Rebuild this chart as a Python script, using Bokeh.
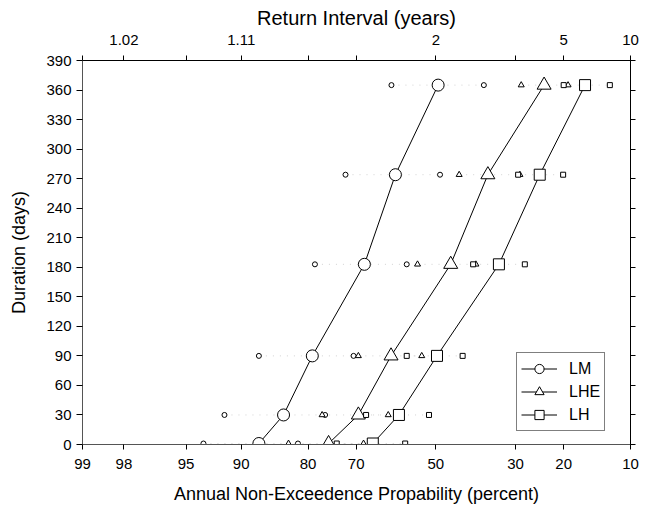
from statistics import NormalDist
from bokeh.plotting import figure
from bokeh.models import (LinearAxis, FixedTicker, Range1d, Legend, LegendItem,
                          ColumnDataSource)
from bokeh.embed import file_html
from bokeh.resources import INLINE

# ---------------- data (probabilities in percent, non-exceedance) ----------------
durations = [1, 30, 90, 183, 274, 365]

lm = [87.8, 84.2, 79.2, 68.1, 60.5, 49.4]
lhe = [76.0, 69.5, 61.6, 46.1, 36.6, 23.8]
lh = [66.1, 59.6, 49.7, 33.9, 24.7, 16.3]

lm_ci_high = [93.7, 91.8, 87.8, 78.7, 72.4, 61.5]
lm_ci_low = [81.8, 76.7, 70.6, 57.6, 48.9, 37.6]
lhe_ci_high = [83.4, 77.3, 69.5, 54.8, 43.9, 28.7]
lhe_ci_low = [68.3, 62.3, 53.7, 39.6, 29.0, 19.2]
lh_ci_high = [74.3, 67.7, 57.6, 40.3, 29.4, 20.0]
lh_ci_low = [58.0, 51.8, 43.0, 27.9, 20.1, 12.6]

prob_ticks = [99, 98, 95, 90, 80, 70, 50, 30, 20, 10]
return_interval_labels = ["1.02", "1.11", "2", "5", "10"]
return_interval_probs = [98, 90, 50, 20, 10]
duration_ticks = list(range(0, 391, 30))

FONT = "Liberation Sans"
ND = NormalDist()


def px(p):
    # normal-probability scale, reversed (high probability on the left)
    return round(ND.inv_cdf(1.0 - p / 100.0), 6)


def tx(vals):
    return [px(v) for v in vals]


p = figure(width=648, height=510, output_backend="svg", toolbar_location=None,
           x_range=Range1d(px(99), px(10)), y_range=Range1d(0, 390),
           x_axis_location=None, y_axis_location=None,
           min_border_left=82, min_border_right=18, min_border_top=60,
           min_border_bottom=66)
p.grid.visible = False
p.outline_line_color = "black"
p.outline_line_width = 1
p.background_fill_color = "white"
p.border_fill_color = "white"

tick_pos = tx(prob_ticks)


def style_axis(ax, tick_size="15px", title_size="18px"):
    ax.major_tick_in = 0
    ax.major_tick_out = 5
    ax.minor_tick_in = 0
    ax.minor_tick_out = 0
    ax.axis_line_color = "black"
    ax.major_tick_line_color = "black"
    ax.major_label_text_font = FONT
    ax.major_label_text_font_size = tick_size
    ax.major_label_text_color = "black"
    ax.axis_label_text_font = FONT
    ax.axis_label_text_font_size = title_size
    ax.axis_label_text_font_style = "normal"
    ax.axis_label_text_color = "black"


bottom = LinearAxis(ticker=FixedTicker(ticks=tick_pos),
                    major_label_overrides={t: str(v) for t, v in zip(tick_pos, prob_ticks)},
                    axis_label="Annual Non-Exceedence Propability (percent)")
style_axis(bottom)
bottom.major_label_standoff = 9
bottom.axis_label_standoff = 12
bottom.axis_line_color = "#555555"
p.add_layout(bottom, "below")

top_over = {t: "" for t in tick_pos}
for lab, pr in zip(return_interval_labels, return_interval_probs):
    top_over[px(pr)] = lab
top = LinearAxis(ticker=FixedTicker(ticks=tick_pos), major_label_overrides=top_over,
                 axis_label="Return Interval (years)")
style_axis(top, title_size="20px")
top.major_label_standoff = 11
top.axis_label_standoff = 3
p.add_layout(top, "above")

left = LinearAxis(ticker=FixedTicker(ticks=duration_ticks), axis_label="Duration (days)")
style_axis(left)
left.major_tick_out = 6
left.major_label_standoff = 5
left.axis_label_standoff = 14
left.axis_line_color = "#555555"
p.add_layout(left, "left")

right = LinearAxis(ticker=FixedTicker(ticks=duration_ticks),
                   major_label_overrides={t: "" for t in duration_ticks})
style_axis(right)
right.major_tick_out = 5
p.add_layout(right, "right")

# faint dotted lines spanning each confidence interval
for hi, lo in ((lm_ci_high, lm_ci_low), (lhe_ci_high, lhe_ci_low), (lh_ci_high, lh_ci_low)):
    p.segment(x0=tx(hi), y0=durations, x1=tx(lo), y1=durations,
              line_color="#d2d2d2", line_width=1, line_dash="1 6")

series = [("LM", lm, lm_ci_high, lm_ci_low, "circle", 12, 5),
          ("LHE", lhe, lhe_ci_high, lhe_ci_low, "triangle", 14, 6),
          ("LH", lh, lh_ci_high, lh_ci_low, "square", 11, 5)]

items = []
for name, vals, hi, lo, mk, big, small in series:
    src = ColumnDataSource(dict(x=tx(vals), y=durations))
    ln = p.line("x", "y", source=src, line_color="black", line_width=1)
    for ci in (hi, lo):
        p.scatter(tx(ci), durations, marker=mk, size=small, fill_color="white",
                  line_color="black", line_width=1)
    sc = p.scatter("x", "y", source=src, marker=mk, size=big, fill_color="white",
                   line_color="black", line_width=1)
    items.append(LegendItem(label=name, renderers=[ln, sc]))

legend = Legend(items=items, location=(434, 13))
legend.label_text_font = FONT
legend.label_text_font_size = "16px"
legend.label_text_color = "black"
legend.border_line_color = "black"
legend.border_line_width = 1.5
legend.background_fill_color = "white"
legend.background_fill_alpha = 1
legend.glyph_width = 36
legend.glyph_height = 23
legend.label_height = 23
legend.spacing = 0
legend.padding = 4
legend.margin = 0
legend.label_standoff = 12
p.add_layout(legend, "center")

open("out.html", "w").write(file_html(p, INLINE))
